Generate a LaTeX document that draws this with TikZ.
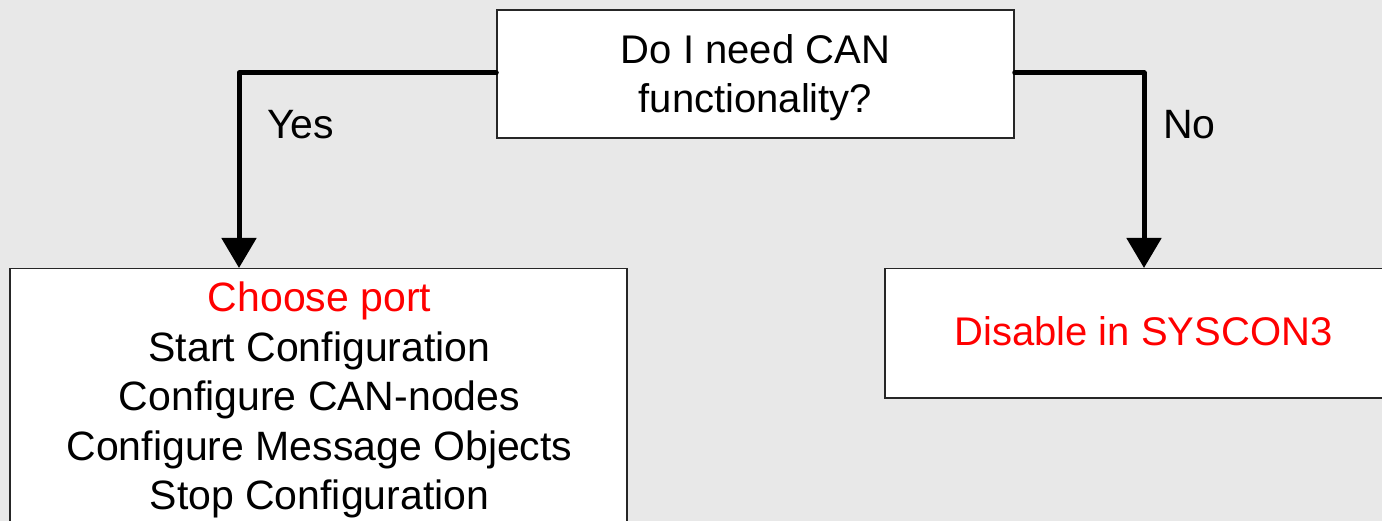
\documentclass[tikz,border=0pt]{standalone}
\usepackage{fontspec}
\setmainfont{Liberation Sans}
\usetikzlibrary{arrows.meta}
\definecolor{bg}{HTML}{E8E8E8}
\definecolor{redtxt}{HTML}{FF0000}
\begin{document}
\begin{tikzpicture}[x=1pt,y=-1pt,
  box/.style={draw=black!85,line width=1.5pt,fill=white,inner sep=0pt},
  conn/.style={line width=5pt,line cap=round,line join=round,-{Triangle[width=34pt,length=30pt]}},
  lbl/.style={font=\fontsize{40}{49}\selectfont,inner sep=0pt},
  lblb/.style={font=\fontsize{41}{49.5}\selectfont,inner sep=0pt}]
\fill[bg] (0,0) rectangle (1382,521);
\useasboundingbox (0,0) rectangle (1382,521);
\clip (0,0) rectangle (1382,521);
\node[box,minimum width=517pt,minimum height=128pt] (q) at (755.5,74) {};
\node[lbl,align=center,anchor=north] (qt) at (755.5,34) {Do I need CAN\\functionality?};
\node[box,minimum width=617pt,minimum height=280pt,anchor=north] (lb) at (318.5,268) {};
\node[lblb,align=center,anchor=north] (lt) at (319.5,282) {\textcolor{redtxt}{Choose port}\\Start Configuration\\Configure CAN-nodes\\Configure Message Objects\\Stop Configuration};
\node[box,minimum width=517pt,minimum height=129pt,anchor=north] (rb) at (1143.5,268) {};
\node[lbl,text=redtxt,anchor=base] (rt) at (1143.5,346) {Disable in SYSCON3};
\coordinate (yk) at (239,73);
\coordinate (nk) at (1144,73);
\draw[conn] (q.west |- yk) -- (yk) -- (yk |- lb.north);
\draw[conn] (q.east |- nk) -- (nk) -- (nk |- rb.north);
\node[lblb,anchor=base west] (yes) at (267,139) {Yes};
\node[lblb,anchor=base west] (no) at (1163,139) {No};
\end{tikzpicture}
\end{document}
